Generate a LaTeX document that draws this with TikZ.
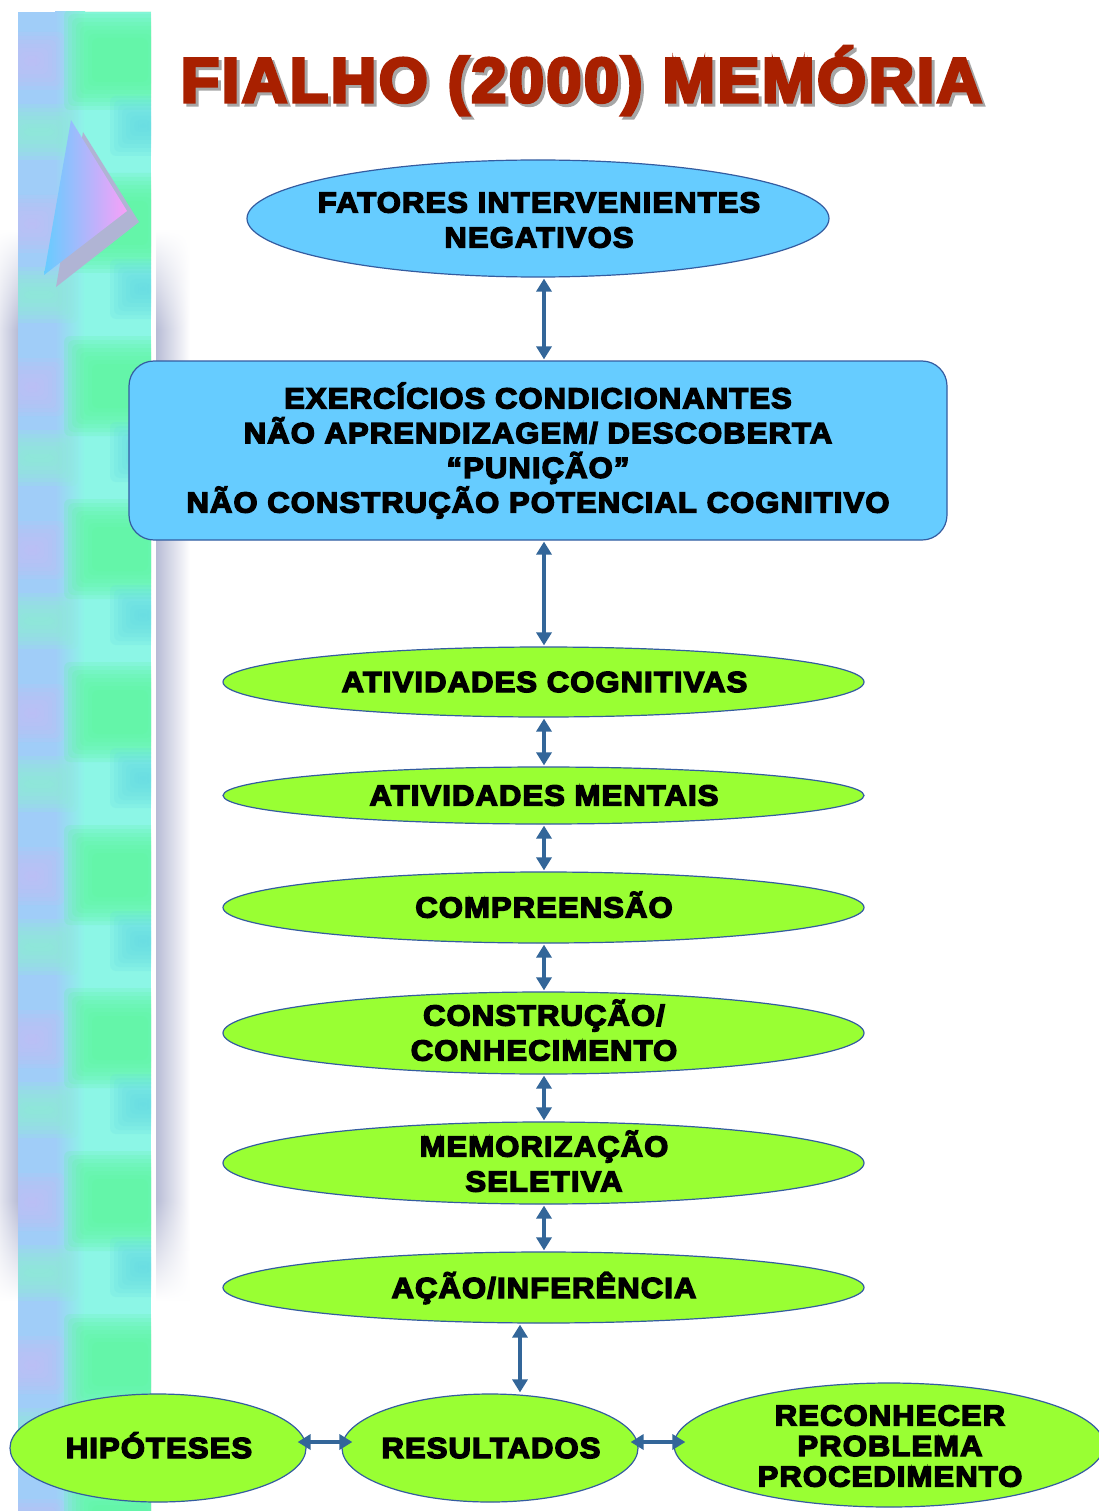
\documentclass[tikz,border=0pt]{standalone}
\usepackage{fontspec}
\newfontfamily\heavy{Liberation Sans}[FakeStretch=1.066, LetterSpace=4, BoldFeatures={FakeBold=5}]
\newfontfamily\heavytitle{Liberation Sans}[LetterSpace=4, BoldFeatures={FakeBold=5}]
\usetikzlibrary{shapes.geometric,arrows.meta,fadings}

\definecolor{skyfill}{RGB}{102,204,255}
\definecolor{limefill}{RGB}{153,255,51}
\definecolor{edgeblue}{RGB}{52,92,160}
\definecolor{arrowblue}{RGB}{51,102,153}
\definecolor{titlered}{RGB}{168,32,0}
\definecolor{stripblue}{RGB}{160,205,248}
\definecolor{stripaqua}{RGB}{140,246,230}
\definecolor{stripgreen}{RGB}{92,245,156}
\definecolor{stripteal}{RGB}{100,218,226}
\definecolor{striplav}{RGB}{196,190,245}
\definecolor{stripmint}{RGB}{140,240,210}
\definecolor{shadowgray}{RGB}{184,188,214}
\definecolor{trishadow}{RGB}{176,180,212}
\definecolor{tripink}{RGB}{248,160,248}

\tikzfading[name=fadein, top color=transparent!100, bottom color=transparent!0]
\tikzfading[name=fadeout, top color=transparent!0, bottom color=transparent!100]

% soft-edged block: colour, x1, y1, x2, y2
\newcommand\softblob[5]{%
  \foreach \i in {0,...,7}{%
    \fill[#1, opacity=0.18, rounded corners=6pt]
      ({#2+4*\i},{#3+4*\i}) rectangle ({#4-4*\i},{#5-4*\i});
  }%
}

\tikzset{
  skyell/.style={ellipse, draw=edgeblue, line width=1.2pt, fill=skyfill, inner sep=0pt},
  limeell/.style={ellipse, draw=edgeblue, line width=1.2pt, fill=limefill, inner sep=0pt},
  lbl/.style={font={\heavy\bfseries\fontsize{29}{35}\selectfont}, align=center, anchor=base, inner sep=0pt},
  headline/.style={font={\heavytitle\bfseries\fontsize{63}{65}\selectfont}, anchor=base, inner sep=0pt},
  link/.style={arrowblue, line width=4pt,
    {Triangle[width=15pt,length=13pt]}-{Triangle[width=15pt,length=13pt]},
    shorten <=1pt, shorten >=1pt},
}

\begin{document}
\begin{tikzpicture}[x=1pt, y=-1pt]
\useasboundingbox (0,0) rectangle (1099,1511);
\fill[white] (0,0) rectangle (1099,1511);

% shadows beside the decorative strip
\shade[left color=white!60!shadowgray, right color=shadowgray, path fading=fadein] (0,230) rectangle (18,330);
\shade[left color=white!60!shadowgray, right color=shadowgray] (0,330) rectangle (18,1200);
\shade[left color=white!60!shadowgray, right color=shadowgray, path fading=fadeout] (0,1200) rectangle (18,1300);
\shade[left color=shadowgray, right color=white, path fading=fadein] (156,230) rectangle (190,330);
\shade[left color=shadowgray, right color=white] (156,330) rectangle (190,1200);
\shade[left color=shadowgray, right color=white, path fading=fadeout] (156,1200) rectangle (190,1300);

% decorative strip
\begin{scope}
  \clip (18,12) rectangle (151,1511);
  \fill[stripblue] (18,12) rectangle (55,1511);
  \shade[left color=stripblue, right color=stripaqua] (55,12) rectangle (85,1511);
  \fill[stripaqua] (85,12) rectangle (151,1511);
  \foreach \c in {60,223,386,549,712,875,1038,1201,1364,1527}{
    \softblob{striplav}{0}{\c-28}{64}{\c+30}
    \softblob{stripmint}{0}{\c+44}{78}{\c+100}
    \softblob{stripgreen}{64}{\c-50}{176}{\c+50}
    \softblob{stripteal}{110}{\c+36}{176}{\c+96}
  }
\end{scope}

% triangle emblem
\fill[trishadow] (83,132) -- (139,222) -- (56,287) -- cycle;
\shade[left color=skyfill, right color=tripink] (71,120) -- (127,211) -- (44,275) -- cycle;

% title
\node[headline, text=black!35] (titleshadow) at (584.5,105) {FIALHO (2000) MEMÓRIA};
\node[headline, text=titlered] (title) at (581.5,102) {FIALHO (2000) MEMÓRIA};

% shapes
\node[skyell, minimum width=582pt, minimum height=117pt] (fat) at (538,218.5) {};
\node[draw=edgeblue, line width=1.2pt, fill=skyfill, rounded corners=25pt,
      minimum width=818pt, minimum height=179pt, inner sep=0pt] (exc) at (538,450.5) {};
\node[limeell, minimum width=641pt, minimum height=70pt] (g1) at (543.5,682) {};
\node[limeell, minimum width=641pt, minimum height=57pt] (g2) at (543.5,795.5) {};
\node[limeell, minimum width=641pt, minimum height=71pt] (g3) at (543.5,907.5) {};
\node[limeell, minimum width=641pt, minimum height=82pt] (g4) at (543.5,1033) {};
\node[limeell, minimum width=641pt, minimum height=82pt] (g5) at (543.5,1163) {};
\node[limeell, minimum width=641pt, minimum height=71pt] (g6) at (543.5,1287.5) {};
\node[limeell, minimum width=296pt, minimum height=108pt] (hip) at (158,1448) {};
\node[limeell, minimum width=296pt, minimum height=108pt] (res) at (490,1448) {};
\node[limeell, minimum width=430pt, minimum height=124pt] (rec) at (889,1445) {};

% labels (multi-line labels sit on the baseline of their last line)
\node[lbl] (fattxt) at (539,247.5) {FATORES INTERVENIENTES\\NEGATIVOS};
\node[lbl, font={\heavy\bfseries\fontsize{29}{34.7}\selectfont}] (exctxt) at (538,512.5)
  {EXERCÍCIOS CONDICIONANTES\\NÃO APRENDIZAGEM/ DESCOBERTA\\“PUNIÇÃO”\\NÃO CONSTRUÇÃO POTENCIAL COGNITIVO};
\node[lbl] (g1txt) at (544.5,692) {ATIVIDADES COGNITIVAS};
\node[lbl] (g2txt) at (544,805.5) {ATIVIDADES MENTAIS};
\node[lbl] (g3txt) at (544,917.5) {COMPREENSÃO};
\node[lbl] (g4txt) at (544,1060.5) {CONSTRUÇÃO/\\CONHECIMENTO};
\node[lbl] (g5txt) at (544,1191.5) {MEMORIZAÇÃO\\SELETIVA};
\node[lbl] (g6txt) at (544,1298) {AÇÃO/INFERÊNCIA};
\node[lbl] (hiptxt) at (159,1458) {HIPÓTESES};
\node[lbl] (restxt) at (491,1458) {RESULTADOS};
\node[lbl, font={\heavy\bfseries\fontsize{29}{30.5}\selectfont}] (rectxt) at (890,1486.5)
  {RECONHECER\\PROBLEMA\\PROCEDIMENTO};

% connectors
\coordinate (ax) at (544,0);
\coordinate (bx) at (520,0);
\coordinate (hy) at (0,1442);
\draw[link] (fat.south -| ax) -- (exc.north -| ax);
\draw[link] (exc.south -| ax) -- (g1.north -| ax);
\draw[link] (g1.south -| ax) -- (g2.north -| ax);
\draw[link] (g2.south -| ax) -- (g3.north -| ax);
\draw[link] (g3.south -| ax) -- (g4.north -| ax);
\draw[link] (g4.south -| ax) -- (g5.north -| ax);
\draw[link] (g5.south -| ax) -- (g6.north -| ax);
\draw[link] (g6.south -| bx) -- (res.north -| bx);
\draw[link, shorten <=-9pt, shorten >=-11pt] (hip.east |- hy) -- (res.west |- hy);
\draw[link, shorten <=-8pt, shorten >=-12pt] (res.east |- hy) -- (rec.west |- hy);
\end{tikzpicture}
\end{document}
